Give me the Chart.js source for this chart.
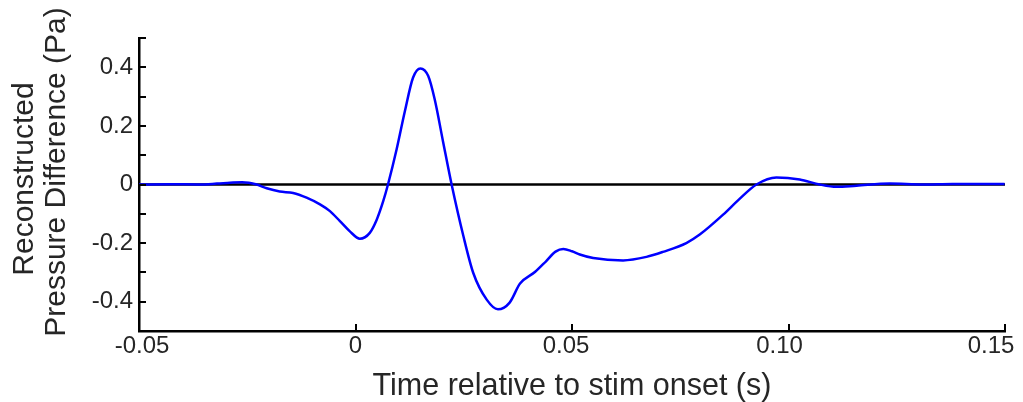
<!DOCTYPE html>
<html>
<head>
<meta charset="utf-8">
<script src="https://cdn.jsdelivr.net/npm/chart.js@4.4.1/dist/chart.umd.min.js"></script>
<style>
  html, body { margin: 0; padding: 0; background: #ffffff; }
  #plot { display: block; }
</style>
</head>
<body>
<canvas id="plot" width="1023" height="402"></canvas>
<script>
// reconstructed pressure trace, time in s, pressure in Pa
const timeS = [
  -0.0500, -0.0430, -0.0360, -0.0320, -0.0290, -0.0262, -0.0228, -0.0205, -0.0175, -0.0144,
  -0.0113, -0.0082, -0.0059, -0.0036, -0.0013, 0.0010, 0.0033, 0.0049, 0.0064, 0.0075,
  0.0095, 0.0114, 0.0133, 0.0150, 0.0168, 0.0183, 0.0202, 0.0222, 0.0249, 0.0272,
  0.0303, 0.0329, 0.0356, 0.0380, 0.0415, 0.0440, 0.0462, 0.0480, 0.0500, 0.0518,
  0.0549, 0.0618, 0.0672, 0.0710, 0.0764, 0.0795, 0.0849, 0.0887, 0.0926, 0.0972,
  0.1026, 0.1072, 0.1111, 0.1157, 0.1234, 0.1310, 0.1379, 0.1499
];
const pressurePa = [
  0.000, 0.001, 0.000, 0.003, 0.006, 0.008, 0.000, -0.013, -0.024, -0.029,
  -0.045, -0.068, -0.091, -0.125, -0.160, -0.185, -0.165, -0.120, -0.057, 0.000,
  0.120, 0.250, 0.365, 0.396, 0.370, 0.290, 0.148, 0.000, -0.175, -0.302,
  -0.393, -0.426, -0.403, -0.338, -0.298, -0.262, -0.229, -0.220, -0.228, -0.239,
  -0.251, -0.259, -0.247, -0.230, -0.200, -0.171, -0.103, -0.049, 0.000, 0.024,
  0.017, 0.000, -0.008, -0.004, 0.003, 0.000, 0.002, 0.002
];

// horizontal reference at zero
const zeroLineX = [-0.05, 0.15];
const zeroLineY = [0, 0];

const xTickLabels = ['-0.05', '0', '0.05', '0.10', '0.15'];
const yTickLabels = ['', '-0.4', '', '-0.2', '', '0', '', '0.2', '', '0.4', ''];
const yTitleLines = ['Reconstructed', 'Pressure Difference (Pa)'];

const textColor = '#262626';
const fontFamily = '"Liberation Sans", Arial, Helvetica, sans-serif';

// small tick marks pointing into the plot area
const inwardTicks = {
  id: 'inwardTicks',
  afterDraw(chart) {
    const ctx = chart.ctx;
    const { x, y } = chart.scales;
    const len = 7;
    ctx.save();
    ctx.strokeStyle = '#000000';
    ctx.lineWidth = 2;
    ctx.beginPath();
    x.ticks.forEach(t => {
      const px = Math.round(x.getPixelForValue(t.value));
      ctx.moveTo(px, y.bottom);
      ctx.lineTo(px, y.bottom - len);
    });
    y.ticks.forEach(t => {
      const py = Math.round(y.getPixelForValue(t.value));
      ctx.moveTo(x.left, py);
      ctx.lineTo(x.left + len, py);
    });
    ctx.stroke();
    ctx.restore();
  }
};

// x tick labels, nudged left towards the right end so the last one stays on the canvas
const xLabels = {
  id: 'xLabels',
  afterDraw(chart) {
    const ctx = chart.ctx;
    const x = chart.scales.x;
    const nudge = [3, 0, -6, -9, -14];
    ctx.save();
    ctx.fillStyle = textColor;
    ctx.font = '24px ' + fontFamily;
    ctx.textAlign = 'center';
    ctx.textBaseline = 'alphabetic';
    x.ticks.forEach((t, i) => {
      ctx.fillText(xTickLabels[i], x.getPixelForValue(t.value) + nudge[i], x.top + 22);
    });
    ctx.restore();
  }
};

// two-line rotated y title, each line centred on its own baseline spot
const yTitle = {
  id: 'yTitle',
  afterDraw(chart) {
    const ctx = chart.ctx;
    const spots = [[33, 179], [65, 172]];
    ctx.save();
    ctx.fillStyle = textColor;
    ctx.font = '30px ' + fontFamily;
    ctx.textAlign = 'center';
    ctx.textBaseline = 'alphabetic';
    yTitleLines.forEach((line, i) => {
      ctx.save();
      ctx.translate(spots[i][0], spots[i][1]);
      ctx.rotate(-Math.PI / 2);
      ctx.fillText(line, 0, 0);
      ctx.restore();
    });
    ctx.restore();
  }
};

new Chart(document.getElementById('plot'), {
  type: 'line',
  data: {
    datasets: [
      {
        data: timeS.map((t, i) => ({ x: t, y: pressurePa[i] })),
        borderColor: '#0000ff',
        borderWidth: 2.5,
        pointRadius: 0,
        cubicInterpolationMode: 'monotone',
        fill: false
      },
      {
        data: zeroLineX.map((t, i) => ({ x: t, y: zeroLineY[i] })),
        borderColor: '#000000',
        borderWidth: 2.5,
        pointRadius: 0,
        fill: false
      }
    ]
  },
  options: {
    responsive: false,
    animation: false,
    devicePixelRatio: 1,
    layout: { padding: { top: 38, right: 18, left: 0, bottom: 0 } },
    plugins: {
      legend: { display: false },
      tooltip: { enabled: false }
    },
    scales: {
      x: {
        type: 'linear',
        min: -0.05,
        max: 0.15,
        grid: { display: false, drawTicks: false },
        border: { display: true, color: '#000000', width: 2.5 },
        ticks: {
          stepSize: 0.05,
          display: false
        },
        title: {
          display: true,
          text: 'Time relative to stim onset (s)',
          color: textColor,
          font: { family: fontFamily, size: 30.5, lineHeight: 1 },
          padding: { top: 0, bottom: 0 }
        },
        afterFit: s => {
          s.height = 71;
          s.paddingLeft = 0;
          s.paddingRight = 0;
        }
      },
      y: {
        min: -0.5,
        max: 0.5,
        grid: { display: false, drawTicks: false },
        border: { display: true, color: '#000000', width: 2.5 },
        ticks: {
          stepSize: 0.1,
          padding: 6,
          autoSkip: false,
          color: textColor,
          font: { family: fontFamily, size: 24 },
          callback: (v, i) => yTickLabels[i]
        },
        afterFit: s => {
          s.width = 139;
          s.paddingTop = 0;
          s.paddingBottom = 0;
        }
      }
    }
  },
  plugins: [inwardTicks, xLabels, yTitle]
});
</script>
</body>
</html>
